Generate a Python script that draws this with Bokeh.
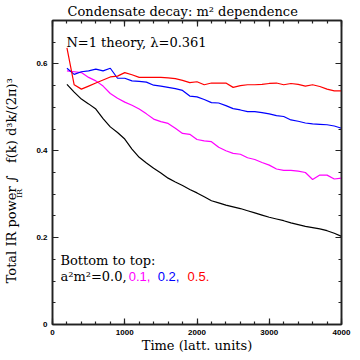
import math
from bokeh.plotting import figure
from bokeh.models import (Range1d, LinearAxis, SingleIntervalTicker, FixedTicker, Label,
                          CustomJSTickFormatter)
from bokeh.embed import file_html
from bokeh.resources import INLINE

# ---- data ----
time = list(range(200, 4001, 100))

m2_00 = [0.553, 0.535, 0.519, 0.508, 0.496, 0.474, 0.455, 0.442, 0.427, 0.404,
         0.385, 0.372, 0.360, 0.349, 0.337, 0.328, 0.320, 0.311, 0.303, 0.294,
         0.285, 0.280, 0.275, 0.271, 0.267, 0.262, 0.257, 0.252, 0.247, 0.243,
         0.239, 0.234, 0.230, 0.226, 0.223, 0.220, 0.216, 0.210, 0.203]

m2_01 = [0.584, 0.582, 0.580, 0.569, 0.561, 0.549, 0.532, 0.521, 0.512, 0.505,
         0.496, 0.485, 0.473, 0.467, 0.463, 0.452, 0.440, 0.438, 0.426, 0.423,
         0.421, 0.408, 0.400, 0.394, 0.392, 0.384, 0.380, 0.373, 0.367, 0.358,
         0.355, 0.355, 0.353, 0.350, 0.334, 0.344, 0.344, 0.335, 0.337]

m2_02 = [0.590, 0.576, 0.582, 0.584, 0.588, 0.584, 0.590, 0.567, 0.567, 0.561,
         0.560, 0.558, 0.551, 0.549, 0.546, 0.543, 0.539, 0.526, 0.524, 0.518,
         0.511, 0.510, 0.504, 0.497, 0.494, 0.490, 0.490, 0.488, 0.485, 0.481,
         0.479, 0.471, 0.468, 0.464, 0.462, 0.461, 0.460, 0.457, 0.452]

m2_05 = [0.637, 0.552, 0.542, 0.549, 0.556, 0.563, 0.570, 0.572, 0.580, 0.575,
         0.569, 0.569, 0.569, 0.569, 0.568, 0.566, 0.562, 0.557, 0.559, 0.552,
         0.556, 0.556, 0.556, 0.546, 0.550, 0.552, 0.552, 0.553, 0.555, 0.556,
         0.552, 0.555, 0.553, 0.549, 0.552, 0.548, 0.542, 0.538, 0.538]

series_colors = ["black", "#ff00ff", "#0000ff", "#ff0000"]
legend_values = ["0.1,", "0.2,", "0.5."]

X0, X1 = 0, 4000
Y0, Y1 = 0.0, 0.7

# ---- layout ----
W, H = 360, 360
BL, BR, BT, BB = 50, 19, 20, 36
FW, FH = W - BL - BR, H - BT - BB

def px2x(px):  # canvas pixel -> data x
    return (px - BL) * (X1 - X0) / FW + X0

def px2y(py):  # canvas pixel -> data y
    return (H - BB - py) * (Y1 - Y0) / FH + Y0

SERIF = "DejaVu Serif"
NB = "\u00a0"

p = figure(width=W, height=H, output_backend="svg", toolbar_location=None,
           x_range=Range1d(X0, X1), y_range=Range1d(Y0, Y1),
           min_border_left=BL, min_border_right=BR, min_border_top=BT, min_border_bottom=BB,
           x_axis_location=None, y_axis_location=None,
           background_fill_color="white", border_fill_color="white")
p.outline_line_color = "black"
p.outline_line_width = 1.5
p.xgrid.visible = False
p.ygrid.visible = False

p.title.text = "Condensate decay: m² dependence"
p.title.align = "left"
p.title.offset = 15
p.title.standoff = 3
p.title.text_font = SERIF
p.title.text_font_size = "13px"
p.title.text_font_style = "normal"
p.title.text_color = "black"

def mk_axis(ticker, show_labels):
    ax = LinearAxis(ticker=ticker,
                    major_tick_in=6, major_tick_out=0,
                    minor_tick_in=3, minor_tick_out=0,
                    axis_line_color="#222222", axis_line_width=1.5,
                    major_tick_line_color="#222222", minor_tick_line_color="#222222",
                    major_tick_line_width=1.2, minor_tick_line_width=1.2,
                    major_label_text_font="Liberation Sans",
                    major_label_text_font_style="bold",
                    major_label_text_color="black",
                    major_label_text_font_size="8px",
                    major_label_standoff=5 if show_labels else 0,
                    axis_label_text_font=SERIF,
                    axis_label_text_font_size="13px",
                    axis_label_text_font_style="normal",
                    axis_label_text_color="black")
    if not show_labels:
        ax.formatter = CustomJSTickFormatter(code="return '';")
    return ax

bottom = mk_axis(SingleIntervalTicker(interval=1000, num_minor_ticks=5), True)
bottom.axis_label = "Time (latt. units)"
bottom.axis_label_standoff = 0
left = mk_axis(SingleIntervalTicker(interval=0.2, num_minor_ticks=4), True)
left.formatter = CustomJSTickFormatter(code="return tick == 0 ? '0' : tick.toFixed(1);")
top = mk_axis(SingleIntervalTicker(interval=1000, num_minor_ticks=5), False)
right = mk_axis(SingleIntervalTicker(interval=0.2, num_minor_ticks=4), False)

# outer, invisible left axis: carries the y-axis title; its single tick label is the
# subscript "IR" of the integral sign
ylab = LinearAxis(ticker=FixedTicker(ticks=[px2y(193)], minor_ticks=[]),
                  formatter=CustomJSTickFormatter(code="return 'IR';"),
                  axis_line_color=None, major_tick_line_color=None, minor_tick_line_color=None,
                  major_tick_in=0, major_tick_out=0, minor_tick_in=0, minor_tick_out=0,
                  major_label_orientation="parallel",
                  major_label_text_font=SERIF, major_label_text_font_size="8px",
                  major_label_text_color="black", major_label_standoff=10,
                  axis_label="Total IR power \u222b" + NB * 2 + " f(k) d³k/(2π)³" + NB * 4,
                  axis_label_standoff=-7,
                  axis_label_text_font=SERIF, axis_label_text_font_size="13px",
                  axis_label_text_font_style="normal", axis_label_text_color="black")

p.add_layout(bottom, "below")
p.add_layout(left, "left")
p.add_layout(ylab, "left")
p.add_layout(top, "above")
p.add_layout(right, "right")

for ys, c in zip([m2_00, m2_01, m2_02, m2_05], series_colors):
    p.line(time, ys, line_color=c, line_width=1.2)

def lab(text, px, py, size="13px", font=SERIF, color="black", align="left",
        baseline="alphabetic"):
    p.add_layout(Label(x=px2x(px), y=px2y(py), text=text, text_font=font,
                       text_font_size=size, text_color=color, text_align=align,
                       text_baseline=baseline))

# theory note
lab("N=1 theory, λ=0.361", 64, 42.3)
# legend text
lab("Bottom to top:", 58, 259.5)
lab("a²m²=0.0,", 58, 276)
for txt, c, px in zip(legend_values, series_colors[1:], [126.7, 156, 186]):
    lab(txt, px, 276, font="Liberation Sans", color=c)

open("out.html", "w").write(file_html(p, INLINE))
